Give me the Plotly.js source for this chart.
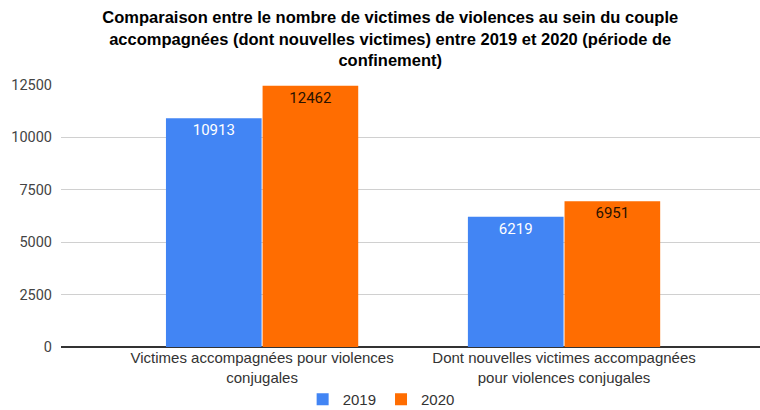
<!DOCTYPE html>
<html><head><meta charset="utf-8">
<script src="https://cdn.plot.ly/plotly-3.0.1.min.js"></script>
<style>html,body{margin:0;padding:0;background:#fff}#chart{width:760px;height:410px}</style>
</head><body><div id="chart"></div>
<script>
const categories = ["Victimes accompagnées pour violences<br>conjugales", "Dont nouvelles victimes accompagnées<br>pour violences conjugales"];
const values2019 = [10913, 6219];
const values2020 = [12462, 6951];
const seriesNames = ["2019", "2020"];
const yTicks = [0, 2500, 5000, 7500, 10000, 12500];

const traces = [
  {type:'bar', name:seriesNames[0], x:categories, y:values2019, marker:{color:'#4285F4'},
   text:values2019.map(String), textposition:'inside', insidetextanchor:'end', textangle:0,
   textfont:{family:'Roboto, sans-serif', size:15, color:'#ffffff'}, hoverinfo:'skip'},
  {type:'bar', name:seriesNames[1], x:categories, y:values2020, marker:{color:'#FF6D01'},
   text:values2020.map(String), textposition:'inside', insidetextanchor:'end', textangle:0,
   textfont:{family:'Roboto, sans-serif', size:15, color:'#2a1200'}, hoverinfo:'skip'}
];

const layout = {
  width:760, height:410, autosize:false,
  margin:{l:61, r:0, t:85, b:63, autoexpand:false},
  paper_bgcolor:'#fff', plot_bgcolor:'#fff',
  title:{text:'<b>Comparaison entre le nombre de victimes de violences au sein du couple<br>accompagnées (dont nouvelles victimes) entre 2019 et 2020 (période de<br>confinement)</b>',
    x:0.471, xref:'paper', xanchor:'center', y:0.943, yref:'container', yanchor:'top', automargin:false,
    font:{family:'Liberation Sans, Arial, sans-serif', size:16.5, color:'#000'}},
  barmode:'group', bargap:0.36, bargroupgap:0.01,
  xaxis:{type:'category', range:[-0.666, 1.649], showgrid:false, zeroline:false, showline:false, automargin:false,
    ticks:'', tickangle:0, tickfont:{family:'Liberation Sans, Arial, sans-serif', size:15, color:'#333'}},
  yaxis:{range:[0,12500], tickvals:yTicks, ticktext:yTicks.map(String), showgrid:true, gridcolor:'#d0d0d0', gridwidth:1, automargin:false,
    zeroline:true, zerolinecolor:'#333', zerolinewidth:1.5, showline:false, ticks:'',
    tickfont:{family:'Roboto, sans-serif', size:14.5, color:'#444'}, ticklabelstandoff:8},
  showlegend:true,
  legend:{orientation:'h', x:0.458, xanchor:'center', y:-0.2, yanchor:'middle',
    font:{family:'Liberation Sans, Arial, sans-serif', size:15, color:'#333'}, traceorder:'normal'}
};
Plotly.newPlot('chart', traces, layout, {displayModeBar:false, staticPlot:true});
</script></body></html>
